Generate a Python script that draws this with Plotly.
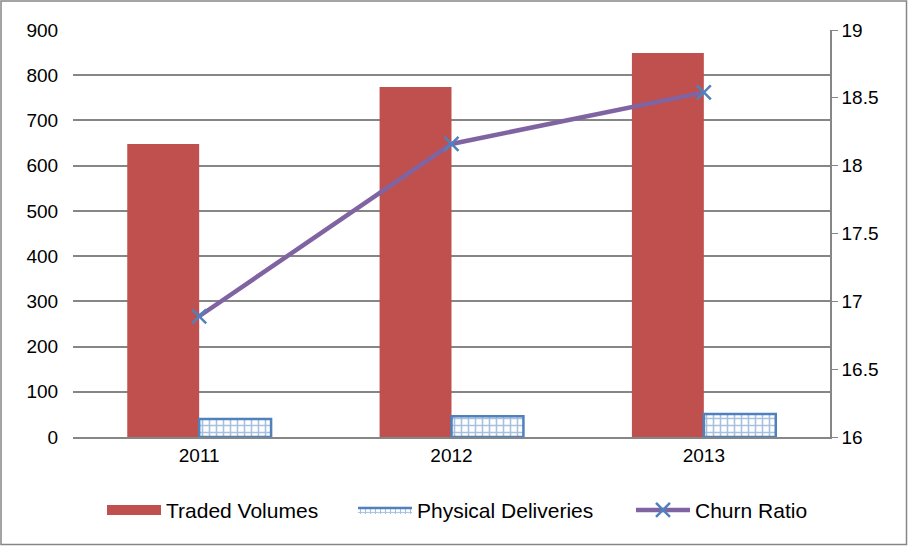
import plotly.graph_objects as go

years = ["2011", "2012", "2013"]
traded_volumes = [648, 774, 849]
physical_deliveries = [40, 46, 51]
churn_ratio = [16.89, 18.16, 18.54]

left_ticks = [0, 100, 200, 300, 400, 500, 600, 700, 800, 900]
right_ticks = [16, 16.5, 17, 17.5, 18, 18.5, 19]

W, H = 908, 546
L, R, T, B = 73, 78, 30, 109
pw, ph = W - L - R, H - T - B

RED = "#C0504D"
BLUE = "#4F81BD"
PURPLE = "#8064A2"
GRID = "#868686"

fig = go.Figure()
fig.add_trace(go.Bar(
    x=years, y=traded_volumes, name="Traded Volumes", showlegend=False,
    marker=dict(color=RED, line=dict(width=0)),
))
fig.add_trace(go.Bar(
    x=years, y=physical_deliveries, name="Physical Deliveries", showlegend=False,
    marker=dict(color=BLUE, line=dict(color=BLUE, width=2.5),
                pattern=dict(shape="+", fgcolor=BLUE, bgcolor="white",
                             size=7, solidity=0.4)),
))
fig.add_trace(go.Scatter(
    x=years, y=churn_ratio, name="Churn Ratio", yaxis="y2",
    mode="lines+markers", showlegend=False,
    line=dict(color=PURPLE, width=4.5),
    marker=dict(symbol="x-thin", size=14, color=BLUE,
                line=dict(color=BLUE, width=2.5)),
))

# legend entries
fig.add_trace(go.Scatter(
    x=[None], y=[None], name="Traded Volumes", mode="lines", legend="legend",
    line=dict(color=RED, width=11),
))
fig.add_trace(go.Scatter(
    x=[None], y=[None], name="Physical Deliveries", mode="lines", legend="legend2",
    fill="toself", fillcolor="white",
    fillpattern=dict(shape="+", fgcolor=BLUE, bgcolor="white", size=5, solidity=0.4),
    line=dict(color=BLUE, width=2.5),
))
fig.add_trace(go.Scatter(
    x=[None], y=[None], name="Churn Ratio", yaxis="y2", legend="legend3",
    mode="lines+markers",
    line=dict(color=PURPLE, width=4.5),
    marker=dict(symbol="x-thin", size=14, color=BLUE,
                line=dict(color=BLUE, width=2.5)),
))

font = dict(family="Liberation Sans, Arial, sans-serif", size=19, color="black")
lfont = dict(family="Liberation Sans, Arial, sans-serif", size=21, color="black")


def leg(px):
    return dict(orientation="h", x=(px - L) / pw, xanchor="left",
                y=-0.18, yanchor="middle", font=lfont, itemwidth=54,
                bgcolor="rgba(0,0,0,0)", borderwidth=0)


fig.update_layout(
    width=W, height=H,
    margin=dict(l=L, r=R, t=T, b=B),
    paper_bgcolor="white", plot_bgcolor="white",
    font=font,
    barmode="group", bargap=0.43, bargroupgap=0,
    showlegend=True,
    legend=leg(102),
    legend2=leg(353),
    legend3=leg(631),
    xaxis=dict(showgrid=False, showline=True, linecolor=GRID, linewidth=2,
               ticks="", tickfont=font),
    yaxis=dict(range=[0, 900], tickvals=left_ticks, showgrid=True,
               gridcolor=GRID, gridwidth=1.5, zeroline=False,
               showline=False, ticks="outside", ticklen=10,
               tickcolor="rgba(0,0,0,0)", tickfont=font),
    yaxis2=dict(range=[16, 19], tickvals=right_ticks, overlaying="y",
                side="right", showgrid=False, zeroline=False,
                showline=True, linecolor=GRID, linewidth=1.5,
                ticks="outside", ticklen=6, tickcolor=GRID, tickfont=font),
)

fig.add_shape(type="rect", xref="paper", yref="paper",
              x0=(-L + 1) / pw, x1=(pw + R - 1.5) / pw,
              y0=(-B + 1.5) / ph, y1=(ph + T - 1) / ph,
              line=dict(color=GRID, width=1.5), fillcolor="rgba(0,0,0,0)",
              layer="below")

fig.write_html("out.html", config={"displayModeBar": False},
               post_script="document.body.style.margin='0';")
